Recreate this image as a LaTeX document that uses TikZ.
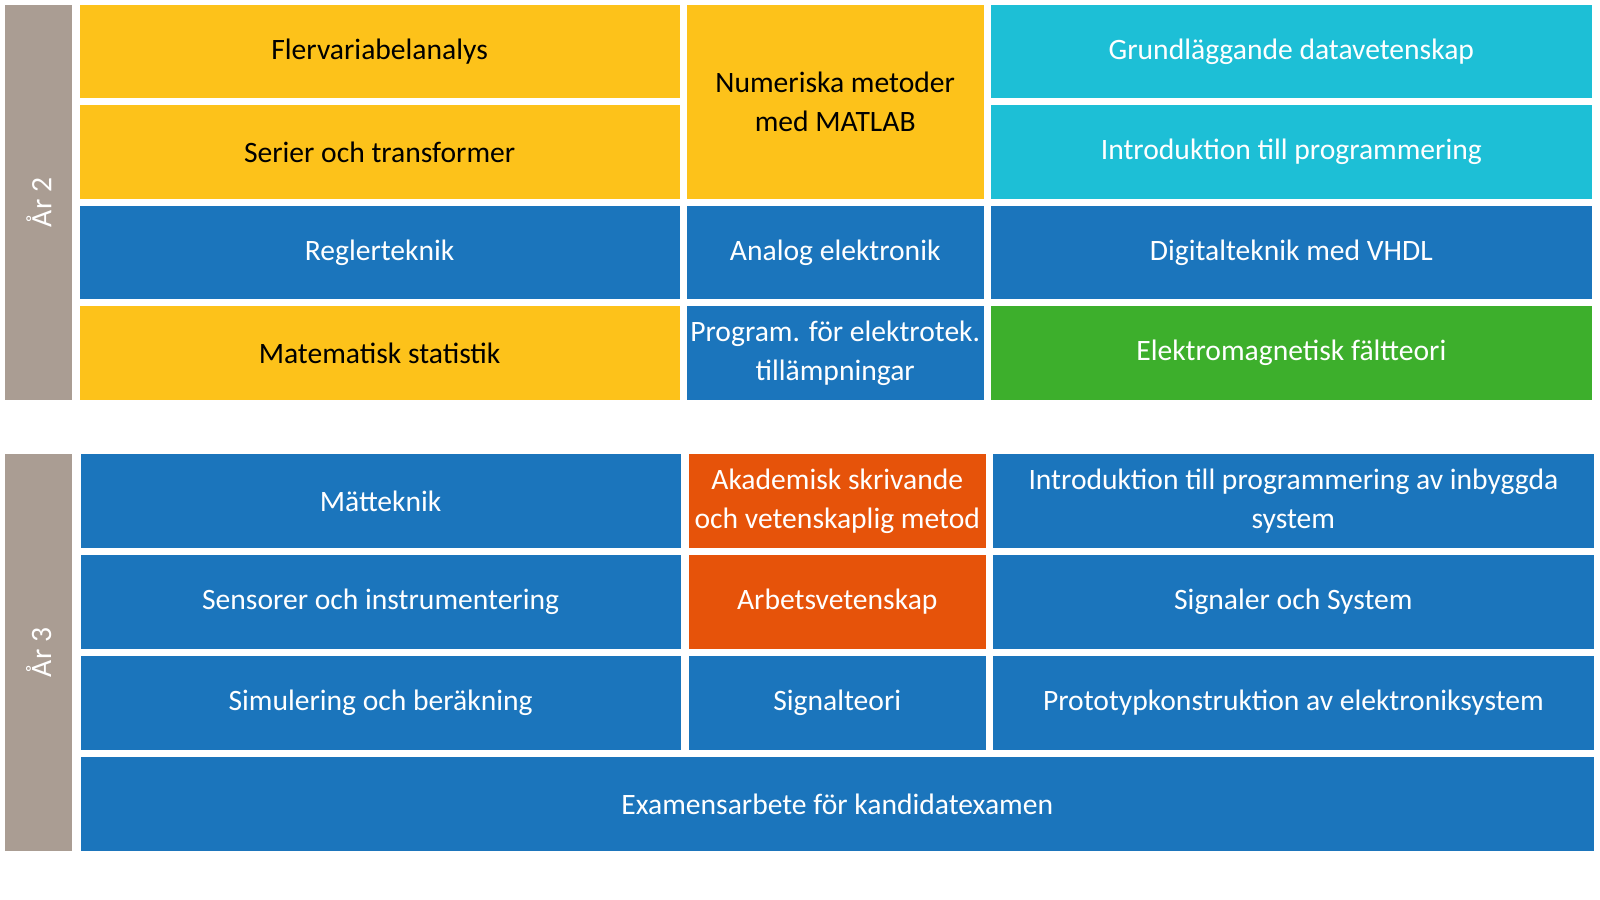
\documentclass[tikz,border=0pt]{standalone}
\usepackage{fontspec}
\setmainfont{Carlito}
\definecolor{cy}{HTML}{FDC21A}
\definecolor{cb}{HTML}{1B75BC}
\definecolor{cc}{HTML}{1DBFD6}
\definecolor{cg}{HTML}{3DAF2C}
\definecolor{co}{HTML}{E6530A}
\definecolor{cgr}{HTML}{AA9D93}
\tikzset{
 lbl/.style={align=center,font=\fontsize{29}{38}\selectfont,text=white},
 dk/.style={lbl,text=black}}
\begin{document}
\begin{tikzpicture}[x=1pt,y=-1pt]
\useasboundingbox (0,0) rectangle (1568,882);
\def\C#1#2#3#4#5#6#7#8{\fill[#5] (#1,#2) rectangle (#3,#4); \node[#6] (#7) at ({(#1+#3)/2},{(#2+#4)/2}) {#8};}
% year 2
\C{5}{5}{71}{392}{cgr}{lbl,rotate=90}{y2}{År 2}
\C{78}{5}{666}{96}{cy}{dk}{a1}{Flervariabelanalys}
\C{78}{103}{666}{195}{cy}{dk}{a2}{Serier och transformer}
\C{78}{202}{666}{293}{cb}{lbl}{a3}{Reglerteknik}
\C{78}{300}{666}{392}{cy}{dk}{a4}{Matematisk statistik}
\C{673}{5}{964}{195}{cy}{dk}{b1}{Numeriska metoder\\med MATLAB}
\C{673}{202}{964}{293}{cb}{lbl}{b3}{Analog elektronik}
\C{673}{300}{964}{392}{cb}{lbl}{b4}{Program. för elektrotek.\\tillämpningar}
\C{971}{5}{1560}{96}{cc}{lbl}{c1}{Grundläggande datavetenskap}
\C{971}{103}{1560}{195}{cc}{lbl}{c2}{Introduktion till programmering}
\C{971}{202}{1560}{293}{cb}{lbl}{c3}{Digitalteknik med VHDL}
\C{971}{300}{1560}{392}{cg}{lbl}{c4}{Elektromagnetisk fältteori}
% year 3
\C{5}{445}{71}{834}{cgr}{lbl,rotate=90}{y3}{År 3}
\C{79}{445}{667}{537}{cb}{lbl}{d1}{Mätteknik}
\C{79}{544}{667}{636}{cb}{lbl}{d2}{Sensorer och instrumentering}
\C{79}{643}{667}{735}{cb}{lbl}{d3}{Simulering och beräkning}
\C{675}{445}{966}{537}{co}{lbl}{e1}{Akademisk skrivande\\och vetenskaplig metod}
\C{675}{544}{966}{636}{co}{lbl}{e2}{Arbetsvetenskap}
\C{675}{643}{966}{735}{cb}{lbl}{e3}{Signalteori}
\C{973}{445}{1562}{537}{cb}{lbl}{f1}{Introduktion till programmering av inbyggda\\system}
\C{973}{544}{1562}{636}{cb}{lbl}{f2}{Signaler och System}
\C{973}{643}{1562}{735}{cb}{lbl}{f3}{Prototypkonstruktion av elektroniksystem}
\C{79}{742}{1562}{834}{cb}{lbl}{g}{Examensarbete för kandidatexamen}
\end{tikzpicture}
\end{document}
